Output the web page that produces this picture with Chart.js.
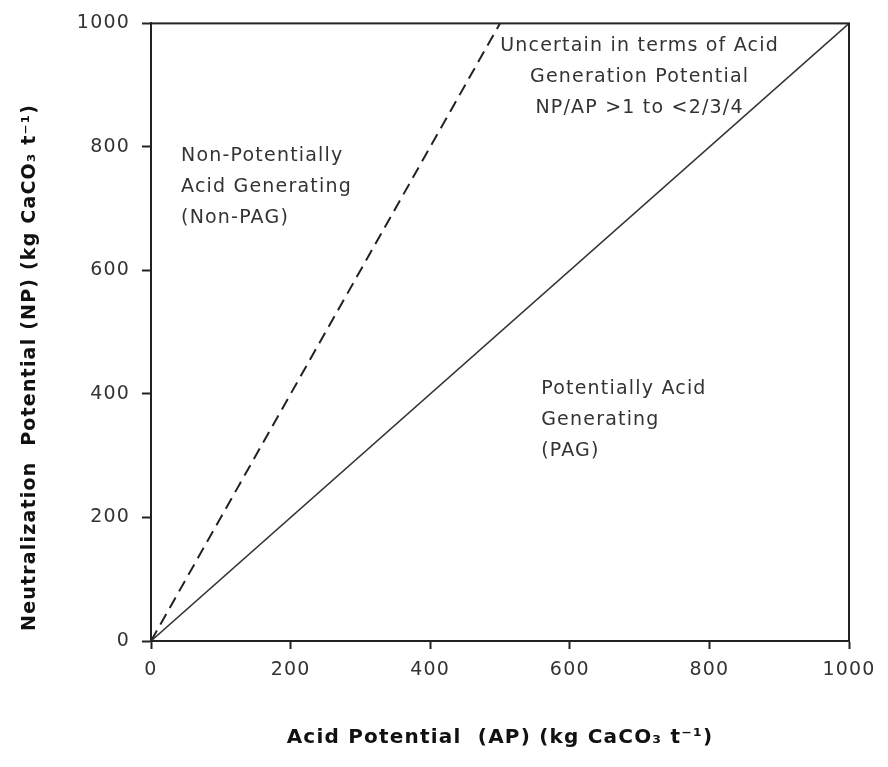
<!DOCTYPE html>
<html>
<head>
<meta charset="utf-8">
<script src="https://cdn.jsdelivr.net/npm/chart.js@4.4.1/dist/chart.umd.min.js"></script>
<style>
  body { margin: 0; background: #fff; }
  #wrap { width: 888px; height: 767px; }
</style>
</head>
<body>
<div id="wrap"><canvas id="acidChart" width="888" height="767"></canvas></div>
<script>
// AP (x) and NP (y) in kg CaCO3 per tonne
const neutralLineAP = [0, 1000];   // NP/AP = 1
const neutralLineNP = [0, 1000];
const upperLineAP = [0, 500];      // NP/AP = 2
const upperLineNP = [0, 1000];
const tickValues = [0, 200, 400, 600, 800, 1000];

const regionText = [
  ['Non-Potentially', 'Acid Generating', '(Non-PAG)'],
  ['Uncertain in terms of Acid', 'Generation Potential', 'NP/AP >1 to <2/3/4'],
  ['Potentially Acid', 'Generating', '(PAG)']
];
// where each block sits, in axis units (AP, NP of first line) and alignment
const regionAt = [
  {ap: 43, np: 785, align: 'left'},
  {ap: 700, np: 964, align: 'center'},
  {ap: 559, np: 408, align: 'left'}
];

const ink = '#333';
const fontName = '"DejaVu Sans", sans-serif';

function toPoints(xs, ys){
  return xs.map((x,i) => ({x: x, y: ys[i]}));
}

// wider letters, closer to the original's geometric face
const spacing = {
  id: 'spacing',
  beforeUpdate(chart){ chart.ctx.letterSpacing = '1.2px'; },
  beforeDraw(chart){ chart.ctx.letterSpacing = '1.2px'; }
};

const frameAndLabels = {
  id: 'frameAndLabels',
  afterDraw(chart){
    const c = chart.ctx, a = chart.chartArea;
    const sx = chart.scales.x, sy = chart.scales.y;
    c.save();
    c.strokeStyle = '#222';
    c.lineWidth = 2;
    c.strokeRect(a.left, a.top, a.right - a.left, a.bottom - a.top);
    c.fillStyle = ink;
    c.font = '19px ' + fontName;
    c.letterSpacing = '1.2px';
    c.textBaseline = 'middle';
    regionText.forEach((lines, i) => {
      const at = regionAt[i];
      c.textAlign = at.align;
      const px = sx.getPixelForValue(at.ap);
      const py = sy.getPixelForValue(at.np);
      lines.forEach((t, j) => c.fillText(t, px, py + j*31));
    });
    c.restore();
  }
};

new Chart(document.getElementById('acidChart').getContext('2d'), {
  type: 'scatter',
  data: {
    datasets: [{
      label: 'NP/AP = 1',
      data: toPoints(neutralLineAP, neutralLineNP),
      showLine: true,
      borderColor: '#333',
      borderWidth: 1.5,
      pointRadius: 0
    },{
      label: 'NP/AP = 2',
      data: toPoints(upperLineAP, upperLineNP),
      showLine: true,
      borderColor: '#222',
      borderWidth: 2,
      borderDash: [12, 7],
      pointRadius: 0
    }]
  },
  options: {
    responsive: false,
    animation: false,
    layout: { padding: { top: 19, right: 39, left: 0, bottom: 0 } },
    plugins: { legend: { display: false }, tooltip: { enabled: false } },
    scales: {
      x: {
        type: 'linear',
        min: 0, max: 1000,
        afterBuildTicks: s => { s.ticks = tickValues.map(v => ({value: v})); },
        afterFit: s => { s.height = 126; },
        grid: { drawOnChartArea: false, tickLength: 8, tickColor: '#222', tickWidth: 2 },
        border: { color: '#222', width: 2 },
        ticks: { color: ink, padding: 10, font: { family: fontName, size: 19 }, callback: v => String(v) },
        title: {
          display: true,
          text: 'Acid Potential  (AP) (kg CaCO\u2083 t\u207B\u00B9)',
          color: '#111',
          padding: { top: 0, bottom: 17 },
          font: { family: fontName, size: 20, weight: 'bold' }
        }
      },
      y: {
        type: 'linear',
        min: 0, max: 1000,
        afterBuildTicks: s => { s.ticks = tickValues.map(v => ({value: v})); },
        afterFit: s => { s.width = 151; },
        grid: { drawOnChartArea: false, tickLength: 9, tickColor: '#222', tickWidth: 2 },
        border: { color: '#222', width: 2 },
        ticks: { color: ink, padding: 12, font: { family: fontName, size: 19 }, callback: v => String(v) },
        title: {
          display: true,
          // trailing spaces push the centred title down, as in the original
          text: 'Neutralization  Potential (NP) (kg CaCO\u2083 t\u207B\u00B9)         ',
          color: '#111',
          padding: { top: 19, bottom: 0 },
          font: { family: fontName, size: 19, weight: 'bold' }
        }
      }
    }
  },
  plugins: [spacing, frameAndLabels]
});
</script>
</body>
</html>
